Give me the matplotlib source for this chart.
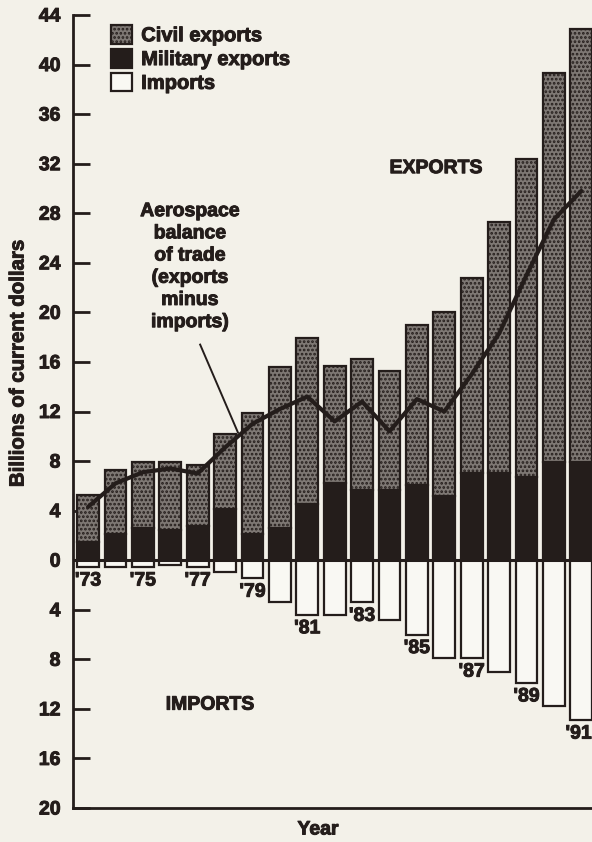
import matplotlib

matplotlib.use("Agg")
import matplotlib.patheffects as pe
import matplotlib.pyplot as plt
import numpy as np
from matplotlib.patches import Patch
from matplotlib.ticker import FuncFormatter

# values in billions of current dollars
years = list(range(1973, 1992))
total_exports = [5.25, 7.3, 7.9, 7.9, 7.7, 10.2, 11.9, 15.6, 17.9, 15.7,
                 16.2, 15.3, 19.0, 20.0, 22.8, 27.3, 32.4, 39.3, 42.9]
military_exports = [1.45, 2.1, 2.6, 2.4, 2.75, 4.1, 2.1, 2.6, 4.5, 6.2,
                    5.7, 5.65, 6.1, 5.2, 7.0, 7.0, 6.7, 7.9, 7.9]
imports = [0.55, 0.55, 0.55, 0.4, 0.55, 0.95, 1.45, 3.4, 4.4, 4.4,
           3.4, 4.8, 6.0, 7.9, 7.9, 9.0, 9.9, 11.8, 12.9]
balance = [4.3, 6.2, 7.1, 7.4, 7.0, 9.1, 11.0, 12.2, 13.2, 11.2,
           12.8, 10.4, 13.0, 12.0, 15.0, 18.3, 23.0, 27.5, 29.8]
label_years = [1973, 1975, 1977, 1979, 1981, 1983, 1985, 1987, 1989, 1991]

paper = "#f3f1e9"
ink = "#241d1b"
civil_grey = "#7e7874"
import_fill = "#f9f8f3"

plt.rcParams["font.family"] = ["Liberation Sans", "DejaVu Sans"]
plt.rcParams["font.weight"] = "bold"
plt.rcParams["hatch.linewidth"] = 1.3
plt.rcParams["hatch.color"] = "#2e2826"

# the printed lettering is heavier than any installed bold, thicken it a bit
heavy = [pe.withStroke(linewidth=0.7, foreground=ink)]

fig = plt.figure(figsize=(5.92, 8.42), dpi=100, facecolor=paper)
ax = fig.add_axes([73 / 592, 1 - 808 / 842, 1 - 73 / 592, (808 - 15) / 842])
ax.set_facecolor(paper)

x = np.array(years)
civil = np.array(total_exports) - np.array(military_exports)
width = 0.8

ax.bar(x, military_exports, width, color=ink, edgecolor=ink, linewidth=1.6, zorder=2)
ax.bar(x, civil, width, bottom=military_exports, color=civil_grey, edgecolor=ink,
       hatch="....", linewidth=1.6, zorder=2)
ax.bar(x, -np.array(imports), width, color=import_fill, edgecolor=ink,
       linewidth=1.6, zorder=2)
ax.axhline(0, color=ink, linewidth=2.2, zorder=3)

ax.plot(x, balance, color=ink, linewidth=3, solid_joinstyle="round",
        solid_capstyle="round", zorder=4)

# year labels hang under the import boxes; the last one sits at the page edge
for yr in label_years:
    i = years.index(yr)
    if yr == years[-1]:
        ax.text(1991.38, -imports[i] - 0.45, f"'{yr % 100}", ha="right", va="top",
                fontsize=14, color=ink, path_effects=heavy)
    else:
        ax.text(yr, -imports[i] - 0.45, f"'{yr % 100}", ha="center", va="top",
                fontsize=14, color=ink, path_effects=heavy)

ax.text(1976.72, 23.65, "Aerospace\nbalance\nof trade\n(exports\nminus\nimports)",
        ha="center", va="center", fontsize=14, color=ink, linespacing=1.4,
        path_effects=heavy)
ax.plot([1977.09, 1978.47], [17.4, 10.3], color=ink, linewidth=1.4, zorder=4)
ax.text(1985.7, 31.6, "EXPORTS", ha="center", va="center", fontsize=14,
        color=ink, path_effects=heavy)
ax.text(1977.45, -11.7, "IMPORTS", ha="center", va="center", fontsize=14,
        color=ink, path_effects=heavy)

ax.set_xlim(1972.45, 1991.39)
ax.set_ylim(-20, 44)
ax.set_yticks(range(-20, 45, 4))
ax.yaxis.set_major_formatter(FuncFormatter(lambda v, p: f"{abs(int(v))}"))
ax.tick_params(axis="y", direction="in", length=12, width=2, pad=9,
               labelsize=14, colors=ink)
ax.set_xticks([])
for side in ["top", "right"]:
    ax.spines[side].set_visible(False)
for side in ["left", "bottom"]:
    ax.spines[side].set_linewidth(2)
    ax.spines[side].set_color(ink)
for lab in ax.get_yticklabels():
    lab.set_fontweight("bold")
    lab.set_path_effects(heavy)

handles = [
    Patch(facecolor=civil_grey, edgecolor=ink, hatch="....", linewidth=1.6),
    Patch(facecolor=ink, edgecolor=ink, linewidth=1.6),
    Patch(facecolor=import_fill, edgecolor=ink, linewidth=1.6),
]
leg = fig.legend(handles, ["Civil exports", "Military exports", "Imports"],
                 loc="upper left", bbox_to_anchor=(111 / 592, 1 - 25 / 842),
                 frameon=False, handlelength=1.05, handleheight=1.05,
                 handletextpad=0.45, labelspacing=0.18, borderpad=0,
                 borderaxespad=0, labelcolor=ink,
                 prop={"weight": "bold", "size": 14.5})
for t in leg.get_texts():
    t.set_path_effects(heavy)

fig.text(18 / 592, 1 - 364 / 842, "Billions of current dollars", rotation=90,
         ha="center", va="center", fontsize=14.7, color=ink, path_effects=heavy)
fig.text(318 / 592, 1 - 830 / 842, "Year", ha="center", va="center",
         fontsize=14, color=ink, path_effects=heavy)

fig.savefig("out.png", dpi=100, facecolor=paper)
